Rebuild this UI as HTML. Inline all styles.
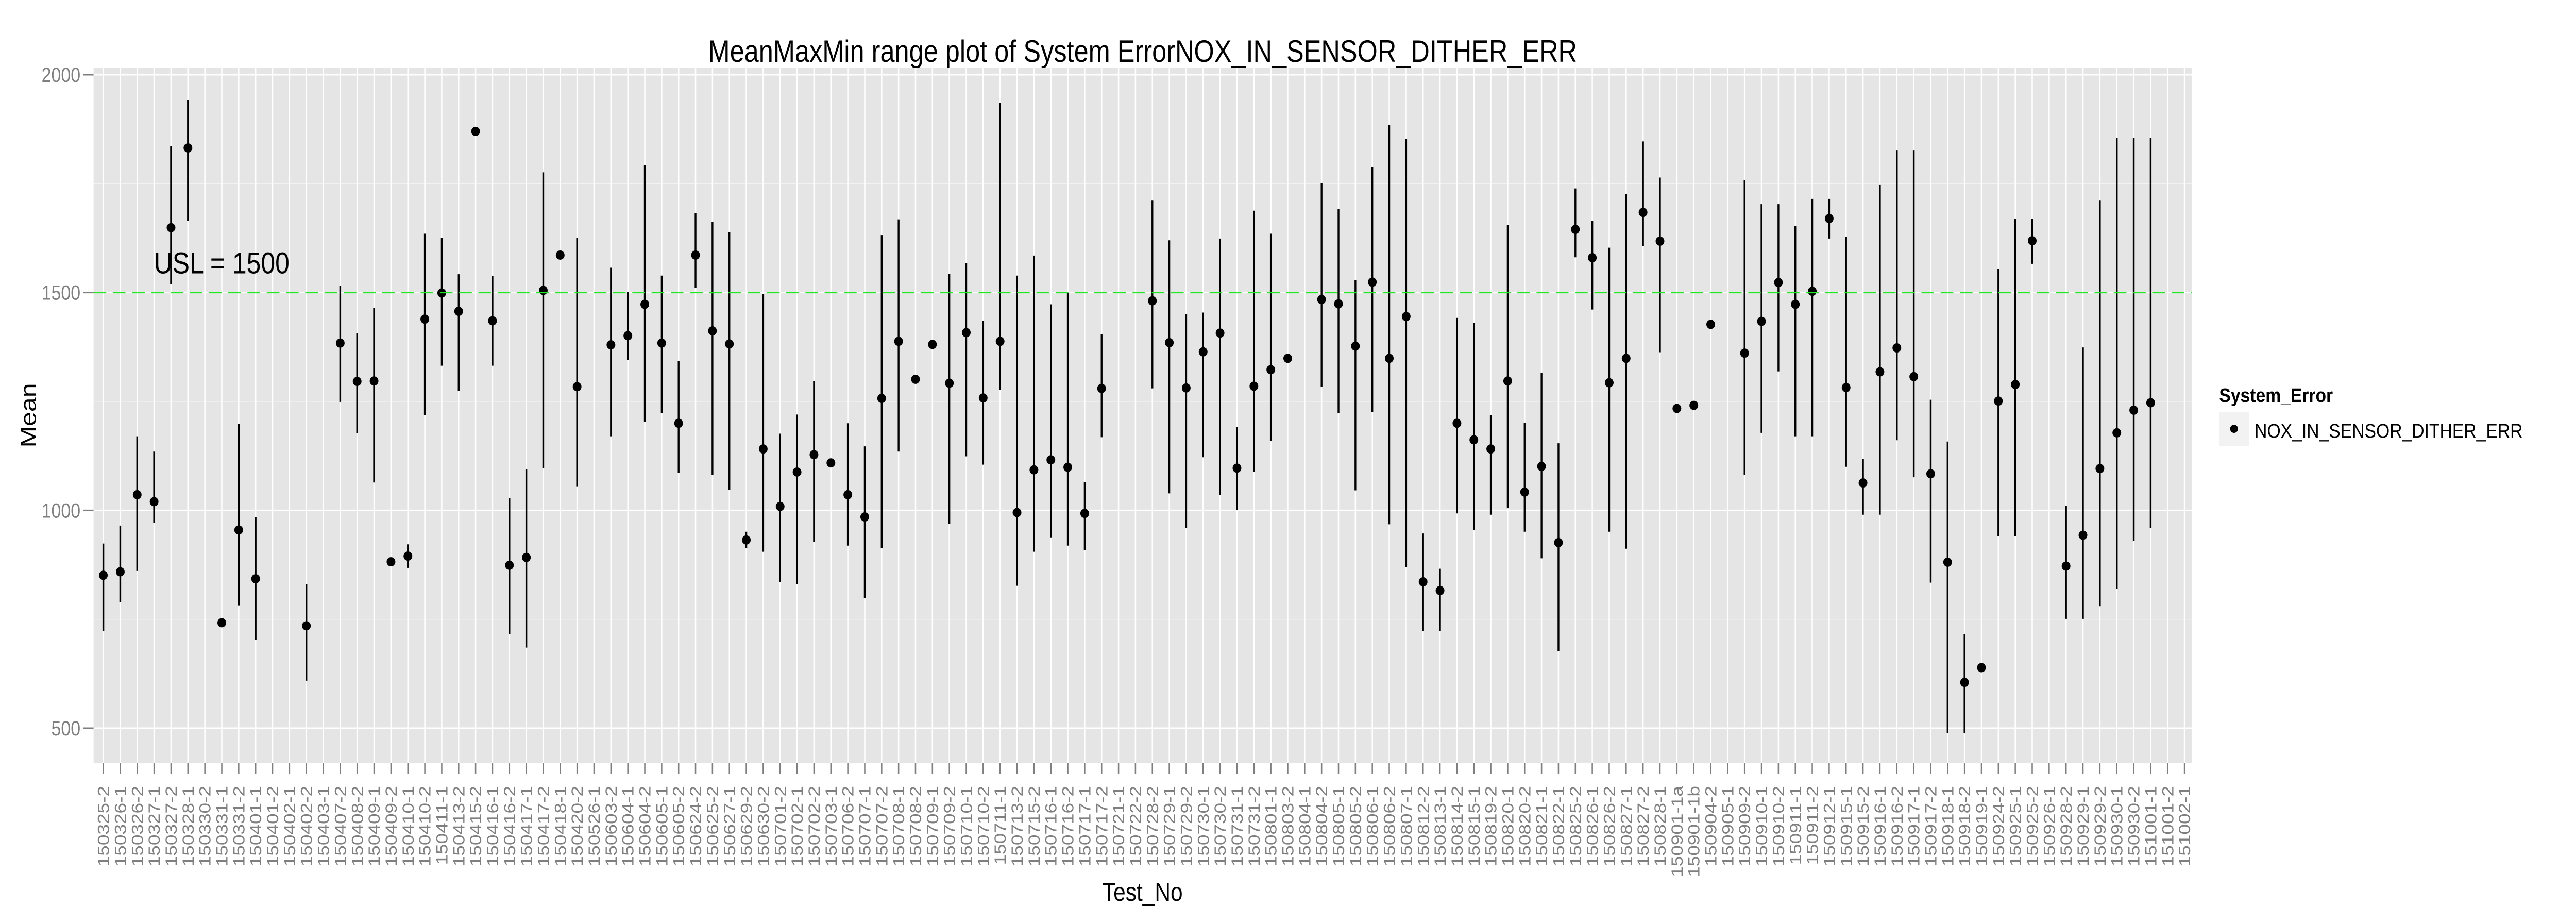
<!DOCTYPE html>
<html><head><meta charset="utf-8"><style>html,body{margin:0;padding:0;width:100%;height:100%;overflow:hidden;background:#fff}svg{display:block;width:100vw;height:100vh}</style></head>
<body>
<svg id="chart" xmlns="http://www.w3.org/2000/svg" viewBox="0 0 5891 1791" preserveAspectRatio="none" font-family="Liberation Sans, Arial, sans-serif">
<rect x="0" y="0" width="5891" height="1791" fill="#fff"/>
<text x="2613" y="120" font-size="60" text-anchor="middle" textLength="1987" lengthAdjust="spacingAndGlyphs" fill="#000">MeanMaxMin range plot of System ErrorNOX_IN_SENSOR_DITHER_ERR</text>
<rect x="214" y="131" width="4798" height="1350" fill="#e5e5e5"/>
<g id="grid"></g><g id="marks"></g><g id="axes"></g>
<text transform="translate(82,806) rotate(-90)" font-size="50" text-anchor="middle" fill="#000">Mean</text>
<text x="2613" y="1748" font-size="50" text-anchor="middle" fill="#000">Test_No</text>
<g>
<text x="5075" y="780" font-size="38" font-weight="bold" textLength="260" lengthAdjust="spacingAndGlyphs">System_Error</text>
<rect x="5075" y="800" width="68" height="65" fill="#f2f2f2"/>
<ellipse cx="5109" cy="832" rx="9" ry="8" fill="#000"/>
<text x="5156" y="849" font-size="38" textLength="613" lengthAdjust="spacingAndGlyphs">NOX_IN_SENSOR_DITHER_ERR</text>
</g>
</svg>
<script>
const categories=["150325-2","150326-1","150326-2","150327-1","150327-2","150328-1","150330-2","150331-1","150331-2","150401-1","150401-2","150402-1","150402-2","150403-1","150407-2","150408-2","150409-1","150409-2","150410-1","150410-2","150411-1","150413-2","150415-2","150416-1","150416-2","150417-1","150417-2","150418-1","150420-2","150526-1","150603-2","150604-1","150604-2","150605-1","150605-2","150624-2","150625-2","150627-1","150629-2","150630-2","150701-2","150702-1","150702-2","150703-1","150706-2","150707-1","150707-2","150708-1","150708-2","150709-1","150709-2","150710-1","150710-2","150711-1","150713-2","150715-2","150716-1","150716-2","150717-1","150717-2","150721-1","150722-2","150728-2","150729-1","150729-2","150730-1","150730-2","150731-1","150731-2","150801-1","150803-2","150804-1","150804-2","150805-1","150805-2","150806-1","150806-2","150807-1","150812-2","150813-1","150814-2","150815-1","150819-2","150820-1","150820-2","150821-1","150822-1","150825-2","150826-1","150826-2","150827-1","150827-2","150828-1","150901-1a","150901-1b","150904-2","150905-1","150909-2","150910-1","150910-2","150911-1","150911-2","150912-1","150915-1","150915-2","150916-1","150916-2","150917-1","150917-2","150918-1","150918-2","150919-1","150924-2","150925-1","150925-2","150926-1","150928-2","150929-1","150929-2","150930-1","150930-2","151001-1","151001-2","151002-1"];
const meanVals=[851,859,1036,1020,1649,1832,null,742,955,843,null,null,735,null,1384,1296,1297,882,895,1439,1499,1457,1870,1435,874,892,1505,1586,1284,null,1380,1401,1473,1384,1200,1586,1412,1382,932,1141,1009,1088,1128,1109,1036,985,1257,1388,1301,1381,1292,1408,1258,1388,995,1093,1116,1099,993,1280,null,null,1481,1385,1281,1364,1407,1097,1285,1323,1349,null,1484,1474,1377,1524,1349,1445,836,816,1200,1162,1141,1297,1042,1101,926,1645,1580,1293,1349,1684,1618,1234,1241,1427,null,1361,1434,1523,1473,1503,1670,1282,1063,1318,1373,1307,1084,881,605,639,1251,1289,1619,null,872,943,1096,1178,1230,1247,null,null];
const maxVals=[924,965,1170,1135,1836,1941,null,742,1199,985,null,null,830,null,1516,1407,1465,882,922,1635,1626,1542,1870,1538,1028,1095,1776,1586,1626,null,1557,1501,1792,1539,1343,1682,1662,1639,951,1496,1176,1220,1297,1109,1200,1147,1632,1668,1301,1381,1543,1568,1435,1936,1539,1585,1473,1500,1065,1404,null,null,1711,1620,1450,1454,1624,1192,1688,1635,1349,null,1751,1692,1529,1788,1885,1853,947,866,1442,1430,1218,1655,1201,1315,1154,1739,1664,1603,1726,1847,1764,1234,1241,1427,null,1758,1703,1703,1653,1715,1715,1628,1118,1747,1826,1826,1254,1158,716,639,1554,1670,1670,null,1011,1374,1711,1855,1855,1855,null,null];
const minVals=[723,789,861,972,1519,1665,null,742,782,703,null,null,609,null,1249,1177,1064,882,868,1218,1332,1274,1870,1332,716,685,1097,1586,1054,null,1170,1345,1203,1224,1086,1511,1081,1047,913,905,836,830,928,1109,919,799,913,1135,1301,1381,969,1124,1105,1276,827,905,938,919,909,1168,null,null,1280,1039,959,1122,1035,1001,1088,1159,1349,null,1284,1223,1046,1226,968,870,723,723,993,955,990,1005,951,890,677,1581,1461,951,912,1607,1363,1234,1241,1427,null,1081,1178,1319,1170,1170,1624,1100,990,990,1161,1076,834,489,489,639,940,940,1566,null,751,751,780,820,930,959,null,null];
const majorTicks=[500,1000,1500,2000];
const minorTicks=[750,1250,1750];
const uslValue=1500;

const NS="http://www.w3.org/2000/svg";
const PL=214,PR=5012,PT=131,PB=1481;
function yScale(v){return 145+(2000-v)*(1268/1500);}
function xScale(i){return PL+(i+0.5)*((PR-PL)/categories.length)+3;}
function mk(tag,attrs,parent){const e=document.createElementNS(NS,tag);for(const k in attrs)e.setAttribute(k,attrs[k]);parent.appendChild(e);return e;}
const grid=document.getElementById('grid'),marks=document.getElementById('marks'),axes=document.getElementById('axes');
minorTicks.forEach(v=>{const l=mk('line',{x1:PL,x2:PR,y1:yScale(v),y2:yScale(v),stroke:'#f2f2f2','stroke-width':1.5},grid);

});
majorTicks.forEach(v=>{const l=mk('line',{x1:PL,x2:PR,y1:yScale(v),y2:yScale(v),stroke:'#fff','stroke-width':3},grid);


const t=mk('line',{x1:190,x2:214,y1:yScale(v),y2:yScale(v),stroke:'#7f7f7f','stroke-width':3},axes);


const tx=mk('text',{x:184,y:yScale(v)+14,'font-size':40,'text-anchor':'end',fill:'#7f7f7f'},axes);
tx.textContent=v;

});
categories.forEach((c,i)=>{const x=xScale(i);
const g=mk('line',{x1:x,x2:x,y1:PT,y2:PB,stroke:'#fff','stroke-width':3},grid);


const t=mk('line',{x1:x,x2:x,y1:PB,y2:PB+20,stroke:'#7f7f7f','stroke-width':3},axes);


const tx=mk('text',{transform:`translate(${x+13},1525) rotate(-90)`,'font-size':37,'text-anchor':'end',fill:'#7f7f7f'},axes);
tx.textContent=c;


if(meanVals[i]!==null){
const r=mk('line',{x1:x,x2:x,y1:yScale(maxVals[i]),y2:yScale(minVals[i]),stroke:'#000','stroke-width':4},marks);


const p=mk('ellipse',{cx:x,cy:yScale(meanVals[i]),rx:10,ry:9,fill:'#000'},marks);

}
});
const u=mk('line',{x1:PL,x2:PR,y1:yScale(uslValue),y2:yScale(uslValue),stroke:'#22e822','stroke-width':3,'stroke-dasharray':'29 15'},marks);


const ut=mk('text',{x:352,y:yScale(uslValue)-37,'font-size':58,fill:'#000',textLength:310,lengthAdjust:'spacingAndGlyphs'},marks);
ut.textContent='USL = '+uslValue;


</script>
</body></html>
